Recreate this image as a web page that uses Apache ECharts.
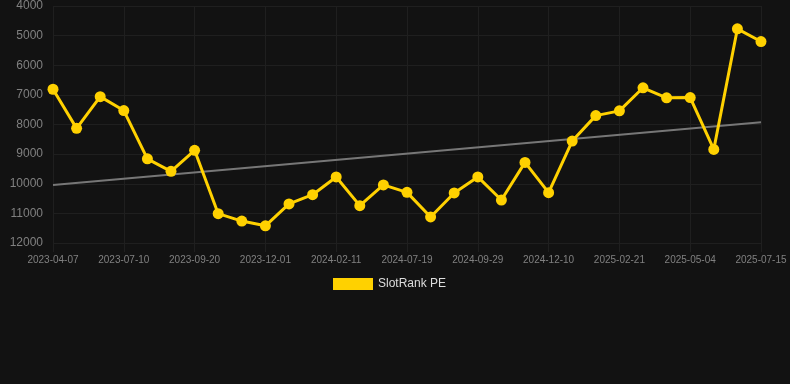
<!DOCTYPE html>
<html>
<head>
<meta charset="utf-8">
<script src="https://cdn.jsdelivr.net/npm/echarts@6/dist/echarts.min.js"></script>
<style>
  html, body { margin: 0; padding: 0; background: #121212; }
  #area { width: 790px; height: 384px; }
</style>
</head>
<body>
<div id="area"></div>
<script>
// dates (only every 3rd one is shown on the axis)
let dates = [
  '2023-04-07', '2023-05-08', '2023-06-08', '2023-07-10', '2023-08-03', '2023-08-27',
  '2023-09-20', '2023-10-14', '2023-11-07', '2023-12-01', '2023-12-25', '2024-01-18',
  '2024-02-11', '2024-03-24', '2024-05-29', '2024-07-19', '2024-08-12', '2024-09-05',
  '2024-09-29', '2024-10-23', '2024-11-16', '2024-12-10', '2025-01-03', '2025-01-27',
  '2025-02-21', '2025-03-17', '2025-04-10', '2025-05-04', '2025-05-28', '2025-06-21',
  '2025-07-15'
]
let rankValues = [
  6810, 8130, 7060, 7530, 9160, 9580, 8870, 11010, 11260, 11420, 10680,
  10370, 9770, 10740, 10040, 10290, 11120, 10310, 9770, 10550, 9280,
  10300, 8560, 7700, 7540, 6760, 7100, 7090, 8840, 4770, 5200
]
// trend line end points (first / last date)
let trendStart = 10040
let trendEnd = 7920
let trendValues = dates.map(function (d, i) {
  if (i === 0) return trendStart
  if (i === dates.length - 1) return trendEnd
  return null
})

let font = 'Arial, Liberation Sans, sans-serif'

let option = {
  backgroundColor: '#121212',
  animation: false,
  grid: {
    left: 53,
    right: 29,
    top: 6,
    bottom: 141,
    containLabel: false
  },
  legend: {
    top: 273,
    left: 328,
    itemWidth: 40,
    itemHeight: 12,
    itemGap: 10,
    textStyle: { color: '#dddddd', fontSize: 12, fontFamily: font },
    data: [{ name: 'SlotRank PE', icon: 'rect' }]
  },
  xAxis: {
    type: 'category',
    data: dates,
    boundaryGap: false,
    axisLine: { show: false },
    axisTick: { show: true, interval: 2, length: 9, lineStyle: { color: '#1f1f1f' } },
    axisLabel: {
      interval: 2,
      color: '#808080',
      fontSize: 10,
      margin: 12,
      fontFamily: font
    },
    splitLine: { show: true, interval: 2, lineStyle: { color: '#1f1f1f', width: 1 } }
  },
  yAxis: {
    type: 'value',
    inverse: true,
    min: 4000,
    max: 12000,
    interval: 1000,
    axisLine: { show: false },
    axisTick: { show: false },
    axisLabel: {
      color: '#808080',
      fontSize: 12,
      margin: 10,
      fontFamily: font,
      formatter: function (v) { return String(v) }
    },
    splitLine: { lineStyle: { color: '#1f1f1f', width: 1 } }
  },
  series: [
    {
      name: 'trend',
      type: 'line',
      data: trendValues,
      connectNulls: true,
      symbol: 'none',
      silent: true,
      lineStyle: { color: '#777777', width: 2 },
      z: 1
    },
    {
      name: 'SlotRank PE',
      type: 'line',
      data: rankValues,
      symbol: 'circle',
      symbolSize: 11,
      itemStyle: { color: '#FFD100' },
      lineStyle: { color: '#FFD100', width: 3 },
      z: 2
    }
  ]
}

let myChart = echarts.init(document.getElementById('area'))
myChart.setOption(option)
window.addEventListener('resize', function () {
  myChart.resize()
}, false)
</script>
</body>
</html>
